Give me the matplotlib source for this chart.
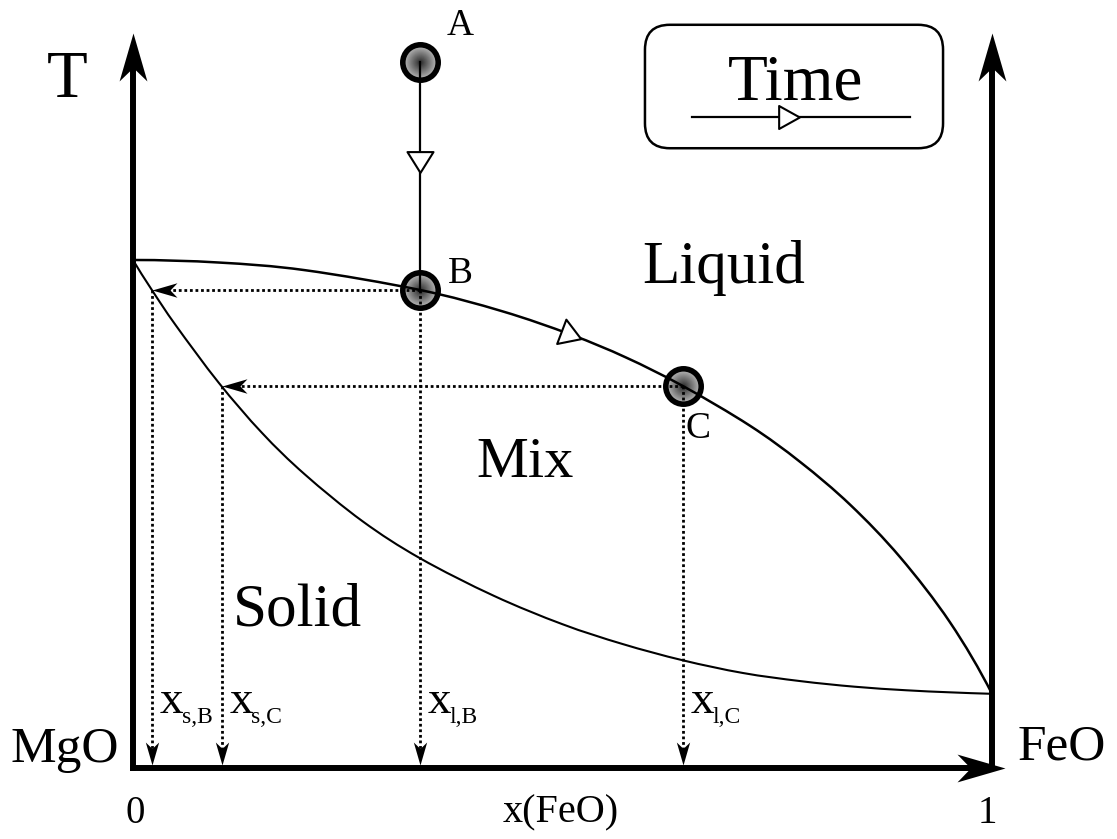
import numpy as np
import matplotlib
matplotlib.use("Agg")
import matplotlib.pyplot as plt
from matplotlib.path import Path
from matplotlib.markers import MarkerStyle
from matplotlib.transforms import Affine2D
from matplotlib.patches import FancyBboxPatch, PathPatch

plt.rcParams['font.family'] = ['Liberation Serif', 'DejaVu Serif']

# liquidus / solidus (x = mole fraction FeO, T normalised to T_melt(MgO))
liq_x = [0.0, 0.1, 0.2, 0.334, 0.43, 0.51, 0.574, 0.64, 0.718, 0.777, 0.835, 0.893, 0.951, 1.0]
liq_T = [1.000, 0.995, 0.980, 0.941, 0.899, 0.853, 0.808, 0.752, 0.674, 0.602, 0.518, 0.415, 0.287, 0.146]
sol_x = [0.0, 0.022, 0.05, 0.1, 0.15, 0.2, 0.267, 0.334, 0.42, 0.5, 0.57, 0.64, 0.71, 0.777, 0.84, 0.9, 0.95, 1.0]
sol_T = [1.000, 0.941, 0.871, 0.758, 0.660, 0.578, 0.486, 0.413, 0.339, 0.283, 0.244, 0.212, 0.187, 0.171, 0.160, 0.153, 0.149, 0.146]

# cooling path
x_B = 0.334
x_C = 0.64
T_A = 1.390
T_B = float(np.interp(x_B, liq_x, liq_T))
T_C = float(np.interp(x_C, liq_x, liq_T))
xs_B = float(np.interp(T_B, sol_T[::-1], sol_x[::-1]))
xs_C = float(np.interp(T_C, sol_T[::-1], sol_x[::-1]))

sub_labels = ["s,B", "s,C", "l,B", "l,C"]
sub_x = [xs_B, xs_C, x_B, x_C]
sub_top = [T_B, T_C, T_B, T_C]

fig = plt.figure(figsize=(11.17, 8.39), dpi=100)
ax = fig.add_axes([0, 0, 1, 1])
ax.set_xlim(-0.1548, 1.1455)
ax.set_ylim(-0.1398, 1.5118)
ax.axis("off")

# pixels per data unit
o = ax.transData.transform((0, 0))
kx = ax.transData.transform((1, 0))[0] - o[0]
ky = ax.transData.transform((0, 1))[1] - o[1]


def stealth(angle, notch=0.72, half=0.29):
    verts = [(0, 0), (-1, half), (-notch, 0), (-1, -half), (0, 0)]
    codes = [Path.MOVETO, Path.LINETO, Path.LINETO, Path.LINETO, Path.CLOSEPOLY]
    return MarkerStyle(Path(verts, codes), transform=Affine2D().rotate_deg(angle))


def open_tri(angle, ratio=0.8):
    verts = [(ratio, 0), (-ratio, 1), (-ratio, -1), (ratio, 0)]
    codes = [Path.MOVETO, Path.LINETO, Path.LINETO, Path.CLOSEPOLY]
    return MarkerStyle(Path(verts, codes), transform=Affine2D().rotate_deg(angle))


def smooth_curve(xs, ys):
    # Catmull-Rom through the read points, drawn as cubic Beziers
    P = np.column_stack([xs, ys])
    first = 3 * P[0] - 3 * P[1] + P[2]
    last = 3 * P[-1] - 3 * P[-2] + P[-3]
    Q = np.vstack([first, P, last])
    verts = [P[0]]
    codes = [Path.MOVETO]
    for i in range(1, len(Q) - 2):
        p0, p1, p2, p3 = Q[i - 1], Q[i], Q[i + 1], Q[i + 2]
        verts += [p1 + (p2 - p0) / 6, p2 - (p3 - p1) / 6, p2]
        codes += [Path.CURVE4] * 3
    return Path(verts, codes)


# axes with arrows
T_top = 1.447
x_end = 1.015
ax_head = 48  # px
ax.plot([0, 0], [0, T_top - 0.7 * ax_head / ky], color="k", lw=4.3, solid_capstyle="projecting", zorder=5)
ax.plot([1, 1], [0, T_top - 0.7 * ax_head / ky], color="k", lw=4.3, solid_capstyle="projecting", zorder=5)
ax.plot([0, x_end - 0.7 * ax_head / kx], [0, 0], color="k", lw=4.3, solid_capstyle="projecting", zorder=5)
ms_ax = 2 * ax_head * 0.72
ax.plot([0, 1], [T_top, T_top], ls="none", marker=stealth(90), ms=ms_ax, mfc="k", mew=0, zorder=6)
ax.plot([x_end], [0], ls="none", marker=stealth(0), ms=ms_ax, mfc="k", mew=0, zorder=6)

# phase boundaries
ax.add_patch(PathPatch(smooth_curve(liq_x, liq_T), fc="none", ec="k", lw=1.8, zorder=3))
ax.add_patch(PathPatch(smooth_curve(sol_x, sol_T), fc="none", ec="k", lw=1.5, zorder=3))

# cooling path A -> B
ax.plot([x_B, x_B], [T_A, T_B], color="k", lw=1.6, zorder=3)
ax.plot([x_B], [1.193], ls="none", marker=open_tri(-90), ms=26 * 0.72,
        mfc="white", mec="k", mew=1.5, zorder=4)

# arrow along liquidus
x_arr = 0.510
T_arr = float(np.interp(x_arr, liq_x, liq_T))
p0 = ax.transData.transform((x_arr - 0.03, np.interp(x_arr - 0.03, liq_x, liq_T)))
p1 = ax.transData.transform((x_arr + 0.03, np.interp(x_arr + 0.03, liq_x, liq_T)))
ang = np.degrees(np.arctan2(p1[1] - p0[1], p1[0] - p0[0]))
ax.plot([x_arr], [T_arr], ls="none", marker=open_tri(ang), ms=26 * 0.72,
        mfc="white", mec="k", mew=1.5, zorder=4)

# dotted tie lines
dot = dict(color="k", lw=2.0, linestyle=(0, (1, 1)), dash_capstyle="butt", zorder=3)
h_head = 25
v_head = 23
ax.plot([x_B, xs_B + 0.7 * h_head / kx], [T_B, T_B], **dot)
ax.plot([x_C, xs_C + 0.7 * h_head / kx], [T_C, T_C], **dot)
ax.plot([xs_B, xs_C], [T_B, T_C], ls="none", marker=stealth(180), ms=2 * h_head * 0.72,
        mfc="k", mew=0, zorder=4)
T_tip = 3 / ky
for xv, tv in zip(sub_x, sub_top):
    ax.plot([xv, xv], [tv, T_tip + 0.7 * v_head / ky], **dot)
ax.plot(sub_x, [T_tip] * 4, ls="none", marker=stealth(-90), ms=2 * v_head * 0.72,
        mfc="k", mew=0, zorder=4)

# state points with radial shading
for xp, tp in [(x_B, T_A), (x_B, T_B), (x_C, T_C)]:
    n = 20
    for i in range(n):
        f = 1 - i / n
        ax.plot([xp], [tp], "o", ms=25.5 * f, mfc=str(0.15 + 0.6 * f), mew=0, zorder=2)
    ax.plot([xp], [tp], "o", ms=25.5, mfc="none", mec="k", mew=4.0, zorder=2)

# text
ax.text(-0.0768, 1.321, "T", fontsize=48, ha="center", va="baseline")
ax.text(0.381, 1.443, "A", fontsize=27, ha="center", va="baseline")
ax.text(0.381, 0.955, "B", fontsize=27, ha="center", va="baseline")
ax.text(0.658, 0.650, "C", fontsize=27, ha="center", va="baseline")
ax.text(0.688, 0.955, "Liquid", fontsize=44, ha="center", va="baseline")
ax.text(0.456, 0.573, "Mix", fontsize=42, ha="center", va="baseline")
ax.text(0.191, 0.281, "Solid", fontsize=44, ha="center", va="baseline")
ax.text(-0.079, 0.012, "MgO", fontsize=37, ha="center", va="baseline")
ax.text(1.081, 0.016, "FeO", fontsize=37, ha="center", va="baseline")
ax.text(0.002, -0.108, "0", fontsize=28, ha="center", va="baseline")
ax.text(0.995, -0.108, "1", fontsize=28, ha="center", va="baseline")
ax.text(0.498, -0.108, "x(FeO)", fontsize=29, ha="center", va="baseline")

T_lab = 0.108
for lab, xv in zip(sub_labels, sub_x):
    ax.annotate("x", xy=(xv, T_lab), xytext=(5.5, 0), textcoords="offset points",
                fontsize=34, ha="left", va="baseline")
    ax.annotate(lab, xy=(xv, T_lab), xytext=(21.5, -7), textcoords="offset points",
                fontsize=17, ha="left", va="baseline")

# Time legend box
box = FancyBboxPatch((0.596, 1.220), 0.347, 0.243,
                     boxstyle="round,pad=0,rounding_size=0.029",
                     mutation_aspect=kx / ky, fc="white", ec="k", lw=1.8, zorder=2)
ax.add_patch(box)
ax.text(0.771, 1.315, "Time", fontsize=47, ha="center", va="baseline", zorder=3)
ax.plot([0.651, 0.905], [1.281, 1.281], color="k", lw=1.6, zorder=3)
ax.plot([0.764], [1.281], ls="none", marker=open_tri(0, 0.9), ms=23 * 0.72,
        mfc="white", mec="k", mew=1.5, zorder=4)

fig.savefig("out.png", dpi=100)
